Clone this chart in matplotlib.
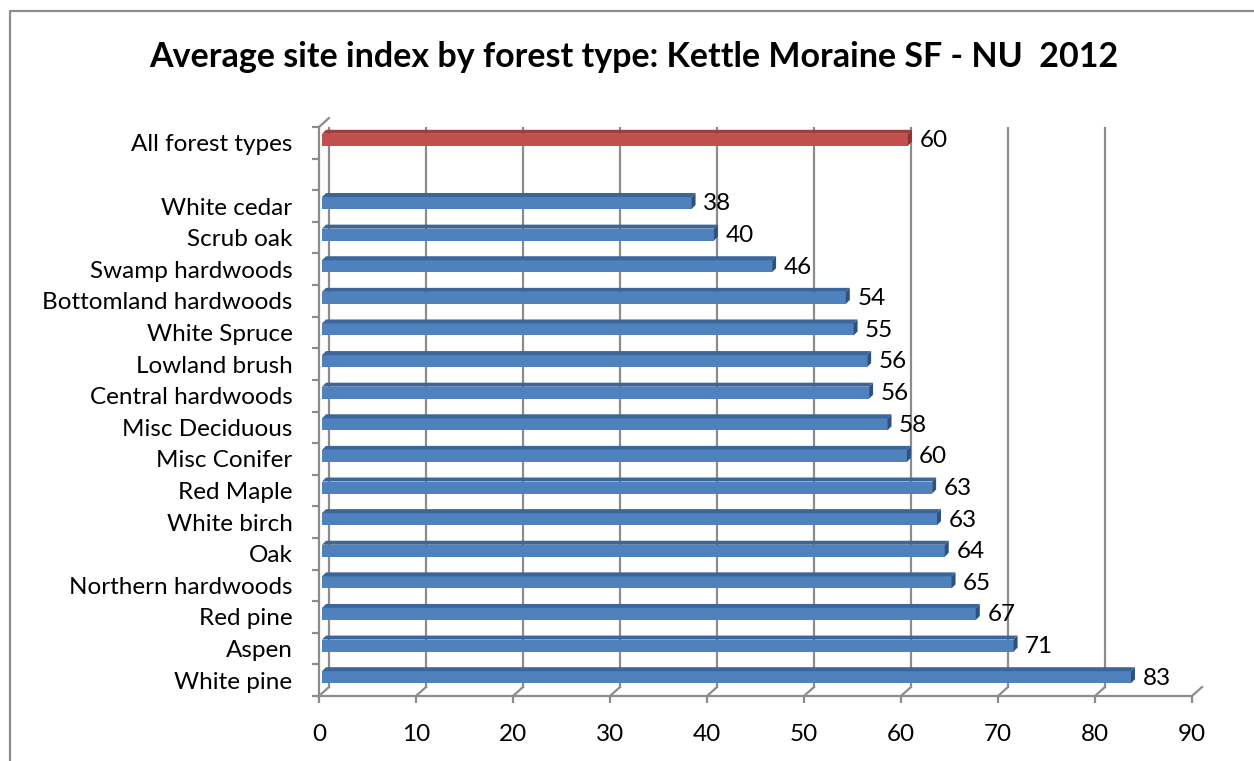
import matplotlib
matplotlib.use("Agg")
import matplotlib.pyplot as plt
from matplotlib.transforms import ScaledTranslation, IdentityTransform
from matplotlib.patches import Polygon
from matplotlib.lines import Line2D

plt.rcParams['font.family'] = ['Lato', 'DejaVu Sans']

# categories top to bottom ('' is the empty slot under the total)
categories = ['All forest types', '', 'White cedar', 'Scrub oak', 'Swamp hardwoods',
              'Bottomland hardwoods', 'White Spruce', 'Lowland brush', 'Central hardwoods',
              'Misc Deciduous', 'Misc Conifer', 'Red Maple', 'White birch', 'Oak',
              'Northern hardwoods', 'Red pine', 'Aspen', 'White pine']
values = [60.4, None, 38.1, 40.4, 46.4, 54.0, 54.8, 56.2, 56.4, 58.3, 60.3,
          62.9, 63.4, 64.2, 64.9, 67.4, 71.3, 83.4]
xticks = [0, 10, 20, 30, 40, 50, 60, 70, 80, 90]

W, H = 1254, 761
fig = plt.figure(figsize=(W / 100, H / 100), dpi=100)
ax = fig.add_axes([319 / W, 1 - 696 / H, 873 / W, 569 / H])
n = len(categories)
ax.set_xlim(0, 90)
ax.set_ylim(n - 0.5, -0.5)

grid_c = '#8c8c8c'
lw = 1.6
fs = 17.5

# front walls = the axes' own spines
for s in ['top', 'right']:
    ax.spines[s].set_visible(False)
for s in ['left', 'bottom']:
    ax.spines[s].set_color(grid_c)
    ax.spines[s].set_linewidth(lw)

ax.set_xticks(xticks)
ax.set_xticklabels([str(t) for t in xticks])
ax.set_yticks(range(n))
ax.set_yticklabels(categories)
ax.set_yticks([i - 0.5 for i in range(n + 1)], minor=True)
ax.tick_params(axis='x', length=5, width=lw, color=grid_c, pad=15, labelsize=fs)
ax.tick_params(axis='y', which='major', length=0, pad=19, labelsize=fs)
ax.tick_params(axis='y', which='minor', length=5, width=lw, color=grid_c)
ax.set_facecolor('none')

# back wall (depth offset)
dx, dy = 10, 9
back = ax.transData + ScaledTranslation(dx / 100, dy / 100, fig.dpi_scale_trans)
for t in xticks:
    ax.add_line(Line2D([t, t], [n - 0.5, -0.5], color=grid_c, lw=lw,
                       transform=back, zorder=1))

# diagonals on floor and left wall top
ident = IdentityTransform()
for t in xticks:
    px, py = ax.transData.transform((t, n - 0.5))
    fig.add_artist(Line2D([px, px + dx], [py, py + dy], color=grid_c, lw=lw,
                          transform=ident, zorder=1))
px, py = ax.transData.transform((0, -0.5))
fig.add_artist(Line2D([px, px + dx], [py, py + dy], color=grid_c, lw=lw,
                      transform=ident, zorder=1))

# bars with a small 3D look
bo = 3
bar_tr = ax.transData + ScaledTranslation(bo / 100, bo / 100, fig.dpi_scale_trans)
bh = 0.38
d = 4
for i, v in enumerate(values):
    if v is None:
        continue
    if i == 0:
        front, top, side = '#C0504D', '#9B3E3C', '#8A3432'
    else:
        front, top, side = '#4F81BD', '#3C6699', '#2E5280'
    ax.barh(i, v, height=bh, left=0, color=front, transform=bar_tr, zorder=3)
    x0, yt = bar_tr.transform((0, i - bh / 2))
    x1, yb = bar_tr.transform((v, i + bh / 2))
    fig.add_artist(Polygon([(x0, yt), (x1, yt), (x1 + d, yt + d), (x0 + d, yt + d)],
                           closed=True, facecolor=top, edgecolor='none',
                           transform=ident, zorder=4))
    fig.add_artist(Polygon([(x1, yb), (x1, yt), (x1 + d, yt + d), (x1 + d, yb + d)],
                           closed=True, facecolor=side, edgecolor='none',
                           transform=ident, zorder=4))
    ax.annotate(f'{v:.0f}', (v, i), xytext=(10.5, 1.5), textcoords='offset points',
                ha='left', va='center', fontsize=fs, zorder=5)

fig.text(634 / W, 1 - 67 / H,
         'Average site index by forest type: Kettle Moraine SF - NU  2012',
         ha='center', va='baseline', fontsize=24.5, fontweight='bold')

# chart border (left and top visible)
fig.add_artist(Line2D([10 / W, 10 / W, 1], [0, 1 - 11 / H, 1 - 11 / H],
                      color=grid_c, lw=lw, transform=fig.transFigure))

fig.savefig('out.png', dpi=100)
